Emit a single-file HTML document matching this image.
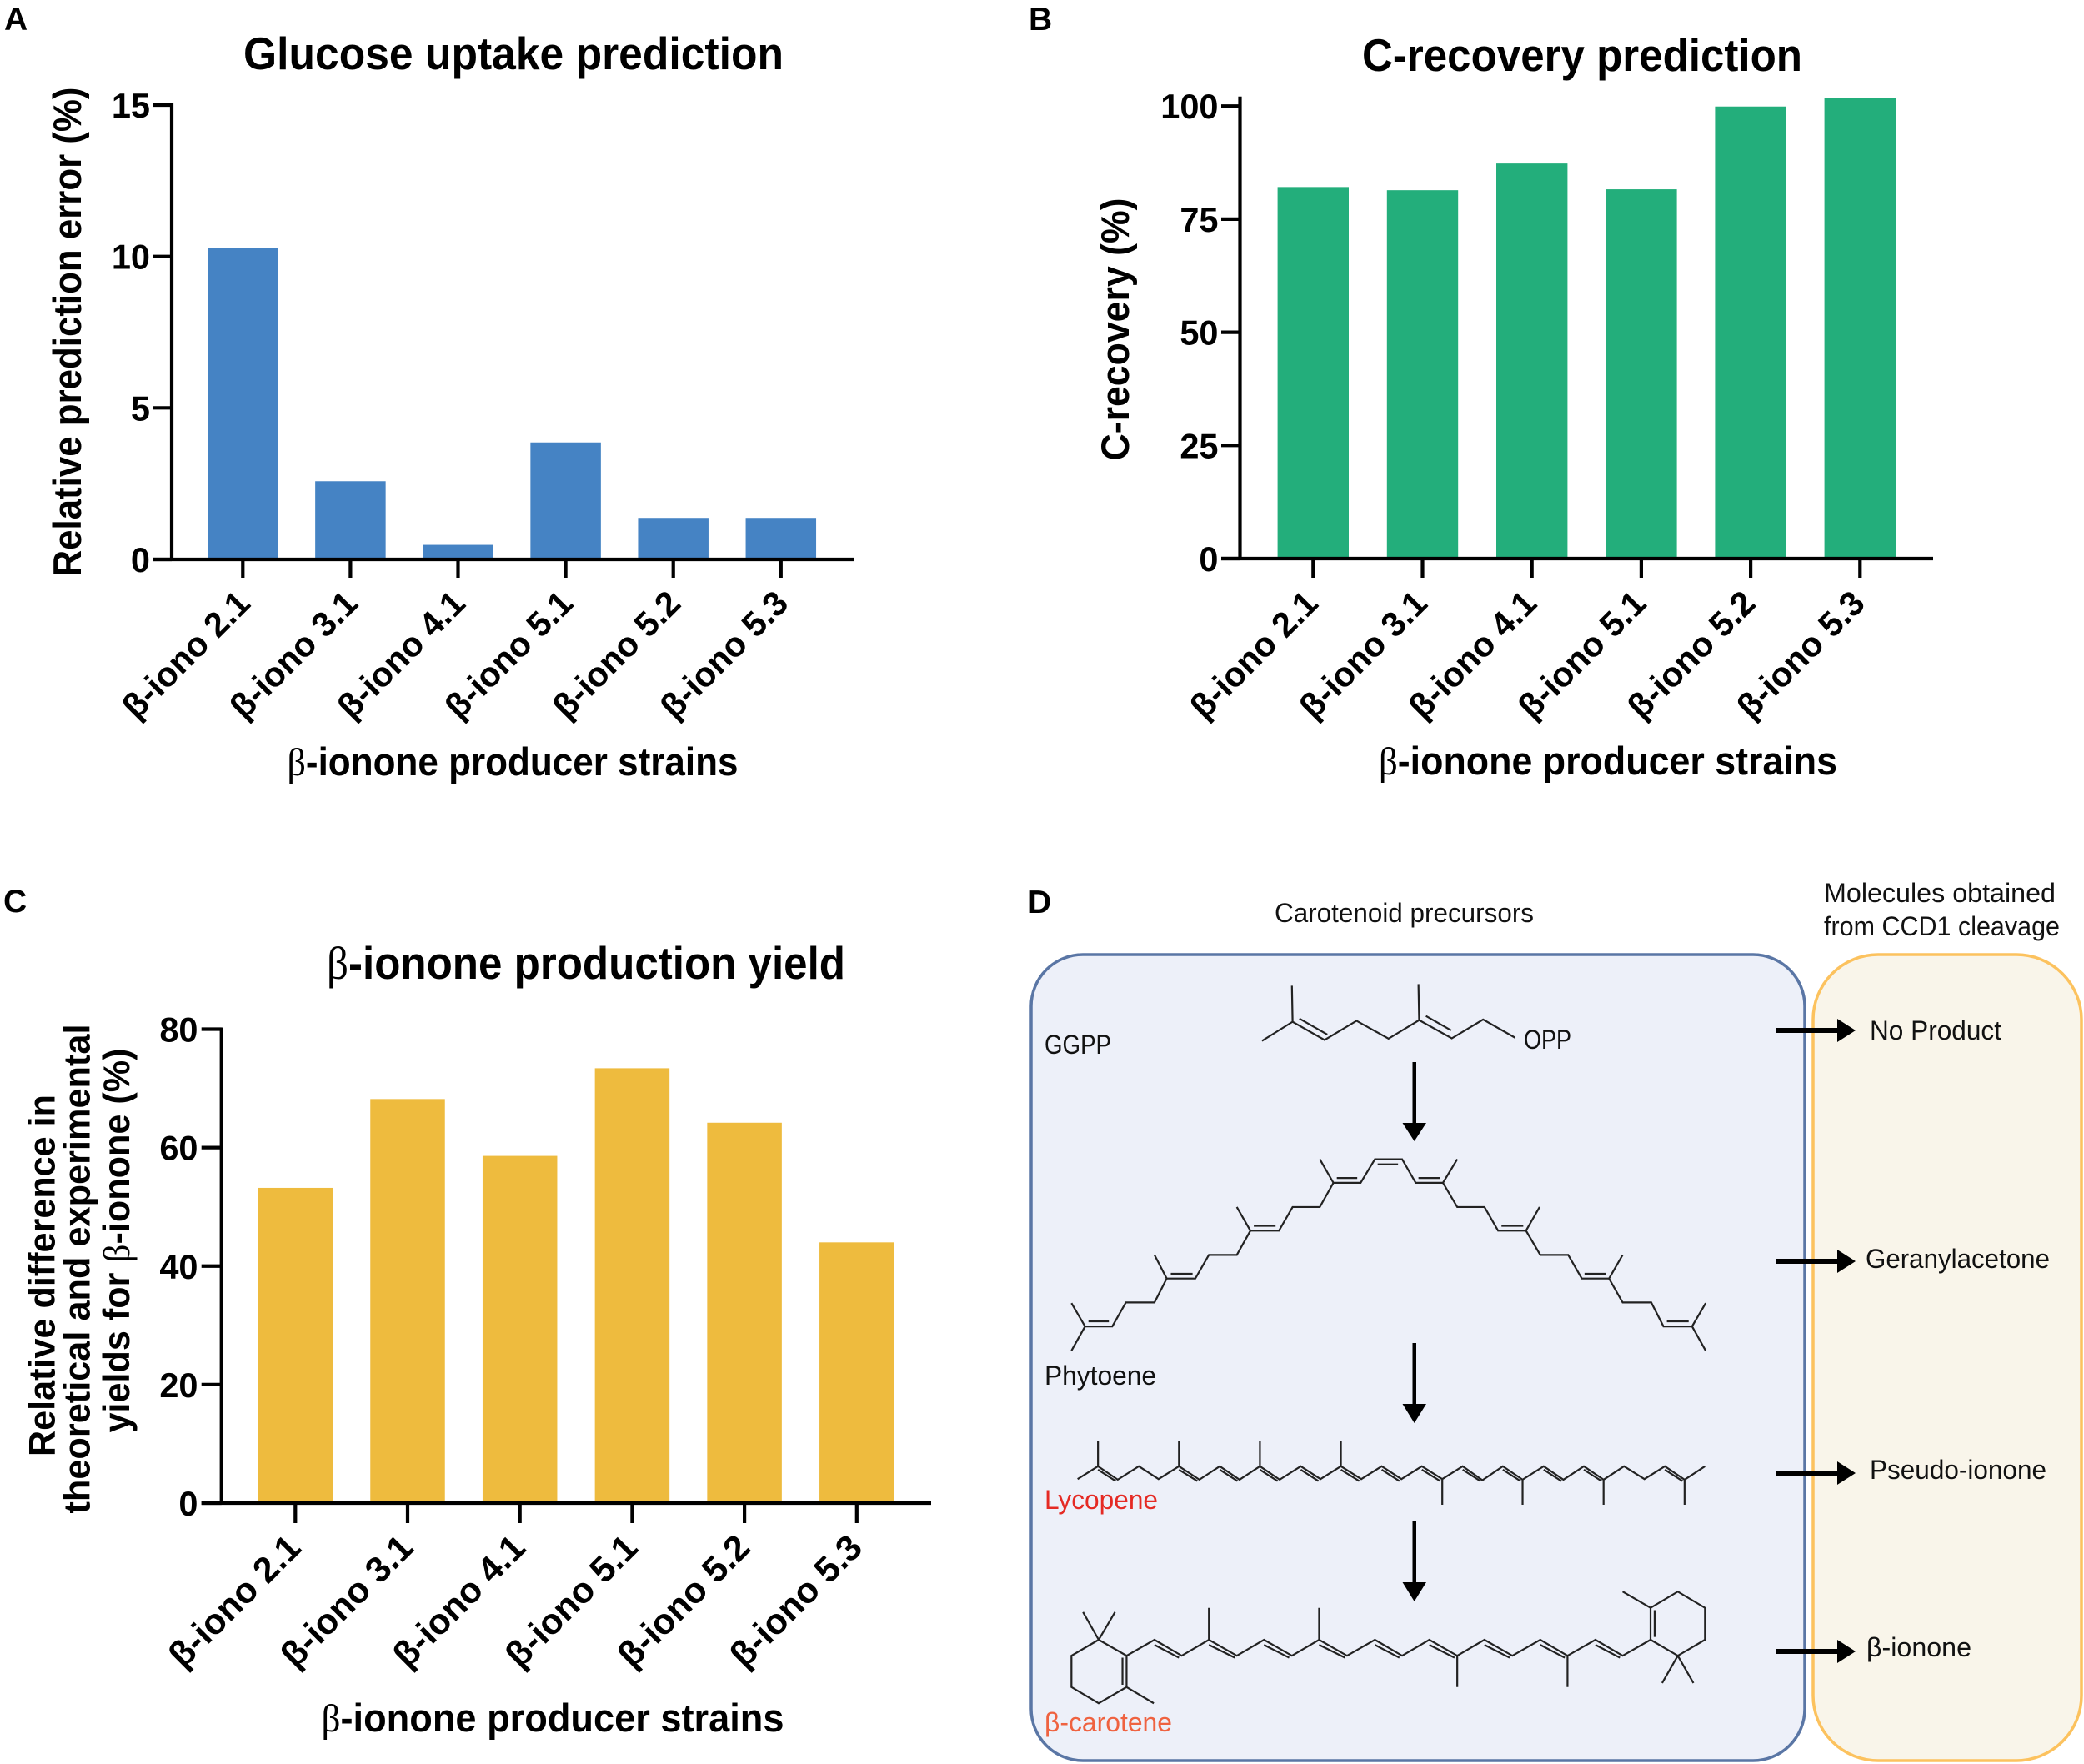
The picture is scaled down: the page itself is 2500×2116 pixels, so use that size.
<!DOCTYPE html>
<html lang="en">
<head>
<meta charset="utf-8">
<title>Beta-ionone producer strain predictions</title>
<style>
html,body{margin:0;padding:0;background:#fff}
svg{display:block}
text{font-family:"Liberation Sans",Arial,sans-serif;fill:#000}
.b{font-weight:bold}
.sym{font-family:"Liberation Serif",serif;font-weight:normal}
.d{font-size:32px;fill:#111}
.mol{fill:none;stroke:#222;stroke-width:2.2;vector-effect:non-scaling-stroke}
.mol path{vector-effect:non-scaling-stroke}
</style>
</head>
<body>
<svg id="fig" xmlns="http://www.w3.org/2000/svg" width="2500" height="2116" viewBox="0 0 2500 2116">
<rect width="2500" height="2116" fill="#fff"/>

<text class="b" x="5" y="36" font-size="39">A</text>
<text class="b" x="1234" y="36" font-size="39">B</text>
<text class="b" x="4" y="1094" font-size="39">C</text>
<text class="b" x="1233" y="1095" font-size="39">D</text>

<text class="b" x="616" y="83" font-size="55" text-anchor="middle" textLength="648" lengthAdjust="spacingAndGlyphs">Glucose uptake prediction</text>
<text class="b" x="1898" y="85" font-size="55" text-anchor="middle" textLength="528" lengthAdjust="spacingAndGlyphs">C-recovery prediction</text>
<text class="b" x="703" y="1174" font-size="55" text-anchor="middle" textLength="622" lengthAdjust="spacingAndGlyphs"><tspan class="sym">β</tspan>-ionone production yield</text>

<text class="b" x="615" y="930" font-size="47" text-anchor="middle" textLength="541" lengthAdjust="spacingAndGlyphs"><tspan class="sym">β</tspan>-ionone producer strains</text>
<text class="b" x="1929" y="929" font-size="47" text-anchor="middle" textLength="550" lengthAdjust="spacingAndGlyphs"><tspan class="sym">β</tspan>-ionone producer strains</text>
<text class="b" x="663" y="2077" font-size="47" text-anchor="middle" textLength="555" lengthAdjust="spacingAndGlyphs"><tspan class="sym">β</tspan>-ionone producer strains</text>

<text class="b" transform="translate(97,398) rotate(-90)" font-size="47" text-anchor="middle" textLength="587" lengthAdjust="spacingAndGlyphs">Relative prediction error (%)</text>
<text class="b" transform="translate(1354,395) rotate(-90)" font-size="47" text-anchor="middle" textLength="315" lengthAdjust="spacingAndGlyphs">C-recovery (%)</text>
<text class="b" transform="translate(65.5,1530) rotate(-90)" font-size="44.5" text-anchor="middle" textLength="434" lengthAdjust="spacingAndGlyphs">Relative difference in</text>
<text class="b" transform="translate(107.3,1522) rotate(-90)" font-size="44.5" text-anchor="middle" textLength="587" lengthAdjust="spacingAndGlyphs">theoretical and experimental</text>
<text class="b" transform="translate(155,1488) rotate(-90)" font-size="44.5" text-anchor="middle" textLength="461" lengthAdjust="spacingAndGlyphs">yields for <tspan class="sym">β</tspan>-ionone (%)</text>

<g id="chart-a"></g>
<g id="chart-b"></g>
<g id="chart-c"></g>

<g>
<rect x="1237" y="1145" width="928" height="967" rx="62" ry="62" fill="#edf0f9" stroke="#5a76a5" stroke-width="3.5"/>
<rect x="2175" y="1145" width="322" height="967" rx="78" ry="78" fill="#f9f5ea" stroke="#fcc25e" stroke-width="3.5"/>

<text class="d" x="1529" y="1106" textLength="311" lengthAdjust="spacingAndGlyphs">Carotenoid precursors</text>
<text class="d" x="2188" y="1082" textLength="278" lengthAdjust="spacingAndGlyphs">Molecules obtained</text>
<text class="d" x="2188" y="1122" textLength="283" lengthAdjust="spacingAndGlyphs">from CCD1 cleavage</text>
<text class="d" x="1253" y="1264" textLength="80" lengthAdjust="spacingAndGlyphs">GGPP</text>
<text class="d" x="1828" y="1258" textLength="57" lengthAdjust="spacingAndGlyphs">OPP</text>
<text class="d" x="1253" y="1661" textLength="134" lengthAdjust="spacingAndGlyphs">Phytoene</text>
<text class="d" x="1253" y="1810" textLength="136" lengthAdjust="spacingAndGlyphs" style="fill:#e52a24">Lycopene</text>
<text class="d" x="1253" y="2077" textLength="153" lengthAdjust="spacingAndGlyphs" style="fill:#ef6240">β-carotene</text>
<text class="d" x="2243" y="1247" textLength="158" lengthAdjust="spacingAndGlyphs">No Product</text>
<text class="d" x="2238" y="1521" textLength="221" lengthAdjust="spacingAndGlyphs">Geranylacetone</text>
<text class="d" x="2243" y="1774" textLength="212" lengthAdjust="spacingAndGlyphs">Pseudo-ionone</text>
<text class="d" x="2239" y="1987" textLength="126" lengthAdjust="spacingAndGlyphs">β-ionone</text>

<path d="M2130 1233H2204V1222L2226 1236L2204 1250V1239H2130Z" fill="#000"/>
<path d="M2130 1510H2204V1499L2226 1513L2204 1527V1516H2130Z" fill="#000"/>
<path d="M2130 1764H2204V1753L2226 1767L2204 1781V1770H2130Z" fill="#000"/>
<path d="M2130 1978H2204V1967L2226 1981L2204 1995V1984H2130Z" fill="#000"/>

<path d="M1694.5 1274H1699V1347H1711L1696.7 1369L1682.5 1347H1694.5Z" fill="#000"/>
<path d="M1694.5 1611H1699V1684H1711L1696.7 1707L1682.5 1684H1694.5Z" fill="#000"/>
<path d="M1694.5 1824H1699V1898H1711L1696.7 1921L1682.5 1898H1694.5Z" fill="#000"/>

<g transform="translate(1220,1040) scale(0.81633,0.38270)">
<g class="mol">
<path d="M360 545L405 485L452 542L499 482L546 538L591 480L639 537L685 478L732 535M405 485L404 372M591 480L590 367M415 475L456 525M601 467L638 512"/>
</g>
<g class="mol">
<path d="M80 1367L100 1440L80 1516M100 1440H140L160 1365H202L220 1290H262L282 1216H323L343 1140H385L405 1066H445L465 990H505L526 916H566L586 990H626L647 1066H687L707 1140H748L769 1216H810L830 1290H870L890 1365H932L950 1440H992L1012 1367M992 1440L1012 1516M465 990L445 916M626 990L647 916M343 1140L323 1066M748 1140L768 1066M220 1290L202 1216M870 1290L890 1216"/>
<path d="M105 1424H135M226 1275H258M348 1125H380M470 975H500M530 932H560M590 975H622M712 1125H744M834 1275H866M955 1424H987"/>
</g>
</g>

<g transform="translate(1220,1580) scale(0.81633,0.34188)">
<g class="mol">
<path d="M89 568L119 523L148 570L179 523L208 568L238 523L268 570L298 523L327 570L357 523L386 570L417 523L446 568L476 523L506 568L536 523L565 568L595 523L625 568L655 523L684 572L714 523L743 570L774 523L803 570L833 523L862 570L892 523L922 568L952 523L981 570L1011 523M119 523V433M238 523V433M357 523V433M476 523V433M625 568V658M743 570V658M862 570V658M981 570V658"/>
<path d="M119 535L145 575M238 535L265 575M298 535L324 575M357 535L383 575M417 535L443 575M476 535L503 575M536 535L562 575M595 535L622 575M655 535L681 575M714 535L740 575M774 535L800 575M833 535L859 575M952 535L978 575"/>
</g>
<g class="mol">
<path d="M120 1132L80 1188V1298L120 1355L161 1298V1188L120 1132M120 1132L97 1035M120 1132L144 1035M161 1298L201 1355M155 1195V1290"/>
<path d="M161 1188L202 1132L242 1188L282 1132L323 1188L363 1132L404 1188L444 1132L485 1188L526 1132L566 1188L606 1132L647 1188L687 1132L728 1188L769 1132L809 1188L850 1132L890 1188L931 1132M282 1132V1020M444 1132V1020M647 1188V1298M809 1188V1298"/>
<path d="M202 1150L238 1195M282 1150L320 1195M363 1150L400 1195M444 1150L482 1195M526 1150L562 1195M606 1150L643 1195M687 1150L724 1195M769 1150L805 1195M850 1150L886 1195"/>
<path d="M931 1132V1020L971 963L1011 1020V1132L971 1188L931 1132M931 1020L890 963M971 1188L948 1284M971 1188L994 1284M937 1028V1122"/>
</g>
</g>
</g>
</svg>

<script>
const categories = ['β-iono 2.1', 'β-iono 3.1', 'β-iono 4.1', 'β-iono 5.1', 'β-iono 5.2', 'β-iono 5.3'];
const glucoseErrorValues = [10.28, 2.58, 0.48, 3.86, 1.37, 1.37];
const cRecoveryValues = [82.1, 81.4, 87.3, 81.6, 99.9, 101.7];
const yieldDifferenceValues = [53.2, 68.2, 58.6, 73.4, 64.2, 44.0];
const glucoseTicks = [0, 5, 10, 15];
const cRecoveryTicks = [0, 25, 50, 75, 100];
const yieldTicks = [0, 20, 40, 60, 80];

const NS = 'http://www.w3.org/2000/svg';

function makeScaleY(baseY, topY, maxValue) {
  return function (v) { return baseY - v * (baseY - topY) / maxValue; };
}
function makeScaleX(firstX, step) {
  return function (i) { return firstX + i * step; };
}
function addLine(parent, x1, y1, x2, y2) {
  const l = document.createElementNS(NS, 'line');
  l.setAttribute('x1', x1);
  l.setAttribute('y1', y1);
  l.setAttribute('x2', x2);
  l.setAttribute('y2', y2);
  l.setAttribute('stroke', '#000');
  l.setAttribute('stroke-width', '4.2');
  parent.appendChild(l);
  return l;
}
function drawBarChart(id, values, ticks, cfg) {
  const g = document.getElementById(id);
  const y = makeScaleY(cfg.baseY, cfg.tickTopY, ticks[ticks.length - 1]);
  const x = makeScaleX(cfg.firstX, cfg.step);
  values.forEach(function (v, i) {
    const bar = document.createElementNS(NS, 'rect');
    bar.setAttribute('x', x(i) - cfg.barW / 2);
    bar.setAttribute('y', y(v));
    bar.setAttribute('width', cfg.barW);
    bar.setAttribute('height', cfg.baseY - y(v));
    bar.setAttribute('fill', cfg.color);
    
    
    g.appendChild(bar);
  });
  const yAxis = addLine(g, cfg.axisX, cfg.axisTopY, cfg.axisX, cfg.baseY);
  
  
  const xAxis = addLine(g, cfg.tickLeftX, cfg.baseY, cfg.axisRightX, cfg.baseY);
  
  
  ticks.forEach(function (t) {
    const tick = addLine(g, cfg.tickLeftX, y(t), cfg.axisX, y(t));
    
    
    const label = document.createElementNS(NS, 'text');
    label.setAttribute('x', cfg.labelRightX);
    label.setAttribute('y', y(t) + 15);
    label.setAttribute('text-anchor', 'end');
    label.setAttribute('font-size', '41.5');
    label.setAttribute('class', 'b');
    
    
    label.textContent = t;
    g.appendChild(label);
  });
  categories.forEach(function (c, i) {
    const tick = addLine(g, x(i), cfg.baseY, x(i), cfg.baseY + cfg.tickLen);
    
    
    const label = document.createElementNS(NS, 'text');
    const lx = x(i) + 6 + cfg.labelDx;
    const ly = cfg.baseY + 59 + cfg.labelDy;
    label.setAttribute('transform', 'translate(' + lx + ',' + ly + ') rotate(-45)');
    label.setAttribute('text-anchor', 'end');
    label.setAttribute('font-size', cfg.xLabelSize);
    label.setAttribute('class', 'b');
    
    
    label.textContent = c;
    g.appendChild(label);
  });
}

drawBarChart('chart-a', glucoseErrorValues, glucoseTicks, {
  baseY: 671, tickTopY: 126, firstX: 291.3, step: 129.1, barW: 84.5, color: '#4583c4',
  axisX: 206, axisTopY: 124, axisRightX: 1024, tickLeftX: 183, labelRightX: 180, tickLen: 22,
  labelDx: 5, labelDy: -4, xLabelSize: 41.5
});
drawBarChart('chart-b', cRecoveryValues, cRecoveryTicks, {
  baseY: 670, tickTopY: 127.2, firstX: 1575.3, step: 131.2, barW: 85.4, color: '#23ae7b',
  axisX: 1487.5, axisTopY: 115.7, axisRightX: 2319, tickLeftX: 1465, labelRightX: 1461.5, tickLen: 23,
  labelDx: 2, labelDy: -3, xLabelSize: 41.5
});
drawBarChart('chart-c', yieldDifferenceValues, yieldTicks, {
  baseY: 1803, tickTopY: 1234.5, firstX: 354.3, step: 134.7, barW: 89.5, color: '#eebb3e',
  axisX: 265.7, axisTopY: 1232.5, axisRightX: 1117, tickLeftX: 241.7, labelRightX: 237.5, tickLen: 24,
  labelDx: 3, labelDy: -3, xLabelSize: 43
});
</script>
</body>
</html>
